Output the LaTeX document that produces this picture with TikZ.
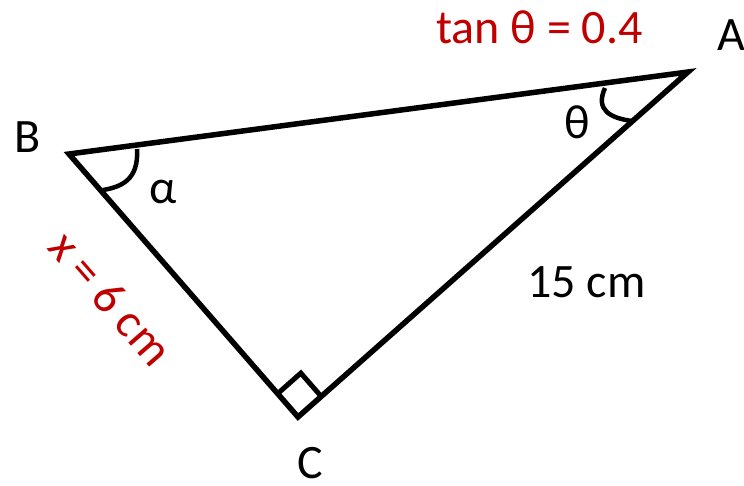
\documentclass[tikz,border=0pt]{standalone}
\usepackage{fontspec}
\setmainfont{Carlito}
\usetikzlibrary{calc}
\definecolor{lblred}{HTML}{C00000}
\begin{document}
\begin{tikzpicture}[x=1pt,y=-1pt,
  edge/.style={line width=5.5pt,line join=miter,black},
  anglemark/.style={line width=4.5pt,black},
  lbl/.style={font=\fontsize{48}{56}\selectfont,inner sep=0pt,anchor=base,text depth=0pt},
  redlbl/.style={lbl,text=lblred}]
\useasboundingbox (0,0) rectangle (744,485);
\coordinate (B) at (69,154);
\coordinate (A) at (688,72);
\coordinate (C) at (298,417);
\draw[edge] (B) -- (A) -- (C) -- cycle;
% right angle mark
\coordinate (Cb) at ($(C)!31pt!(B)$);
\coordinate (Ca) at ($(C)!31pt!(A)$);
\coordinate (Cc) at ($(Cb)+(Ca)-(C)$);
\draw[anglemark,line width=5pt] (Cb) -- (Cc) -- (Ca);
% angle arcs
\draw[anglemark] (137,149) .. controls (139,180) and (121,187) .. (103,190);
\draw[anglemark] (605,88) .. controls (595,110) and (610,118) .. (632,121);
% labels
\node[redlbl] (tan) at (539.5,43) {tan θ = 0.4};
\node[lbl] (lA) at (731,50) {A};
\node[lbl] (lB) at (27.5,152) {B};
\node[lbl] (lC) at (310,478) {C};
\node[lbl] (alpha) at (163,203) {α};
\node[lbl] (theta) at (577,138) {θ};
\node[lbl] (len) at (586.5,297) {15 cm};
\node[redlbl,anchor=center,rotate=-49] (x) at (111,298) {x = 6 cm};
\end{tikzpicture}
\end{document}
